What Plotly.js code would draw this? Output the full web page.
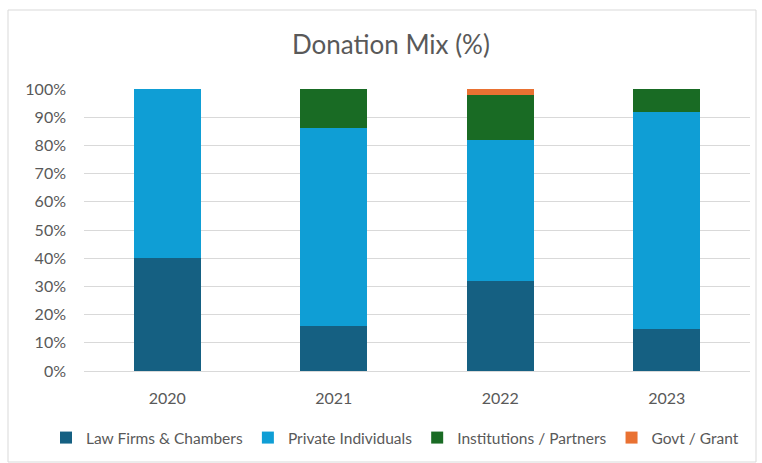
<!DOCTYPE html>
<html>
<head>
<meta charset="utf-8">
<script src="https://cdn.plot.ly/plotly-3.0.1.min.js"></script>
<style>html,body{margin:0;padding:0;background:#fff;}#chart{width:762px;height:463px;}</style>
</head>
<body>
<div id="chart"></div>
<script>
const years = ["2020", "2021", "2022", "2023"];
const lawFirms = [40, 16, 32, 15];
const privateIndividuals = [60, 70, 50, 77];
const institutions = [0, 14, 16, 8];
const govtGrant = [0, 0, 2, 0];

const seriesNames = ["Law Firms & Chambers", "Private Individuals", "Institutions / Partners", "Govt / Grant"];
const seriesColors = ["#156082", "#0F9ED5", "#196B24", "#E97132"];
const seriesValues = [lawFirms, privateIndividuals, institutions, govtGrant];

const traces = seriesValues.map((vals, i) => ({
  type: "bar",
  name: seriesNames[i],
  x: years,
  y: vals,
  marker: {color: seriesColors[i], line: {width: 0}},
  hoverinfo: "name+y"
}));

const FONT = "Lato, 'Open Sans', sans-serif";
const l = 84, r = 12, t = 89, b = 92, W = 762, H = 463;
const pw = W - l - r, ph = H - t - b;
const px = v => (v - l) / pw;
const py = v => (H - b - v) / ph;

const layout = {
  width: W, height: H,
  margin: {l: l, r: r, t: t, b: b, pad: 0, autoexpand: false},
  paper_bgcolor: "#ffffff",
  plot_bgcolor: "#ffffff",
  font: {family: FONT, color: "#595959", size: 16},
  title: {text: "Donation Mix (%)", font: {family: FONT, size: 26, color: "#595959"}, x: 0.513, xanchor: "center", y: 0.902, yanchor: "middle"},
  barmode: "stack",
  bargap: 0.6,
  xaxis: {
    showgrid: false, zeroline: false, showline: false, ticks: "",
    tickfont: {size: 16, color: "#595959"}, ticklabelstandoff: 16
  },
  yaxis: {
    range: [0, 100], dtick: 10, ticksuffix: "%",
    showgrid: true, gridcolor: "#D9D9D9", gridwidth: 1,
    zeroline: true, zerolinecolor: "#D9D9D9", zerolinewidth: 1,
    showline: false, ticks: "",
    tickfont: {size: 16, color: "#595959"}, ticklabelstandoff: 17
  },
  legend: {
    orientation: "h", x: px(46), xanchor: "left", y: py(438), yanchor: "middle",
    font: {size: 15.5, color: "#595959"}, traceorder: "normal",
    itemwidth: 30
  },
  shapes: [{
    type: "rect", xref: "paper", yref: "paper",
    x0: px(8), x1: px(756), y0: py(462), y1: py(10),
    line: {color: "#D9D9D9", width: 1}, fillcolor: "rgba(0,0,0,0)", layer: "below"
  }],
  showlegend: true
};

Plotly.newPlot("chart", traces, layout, {displayModeBar: false, staticPlot: true});
</script>
</body>
</html>
